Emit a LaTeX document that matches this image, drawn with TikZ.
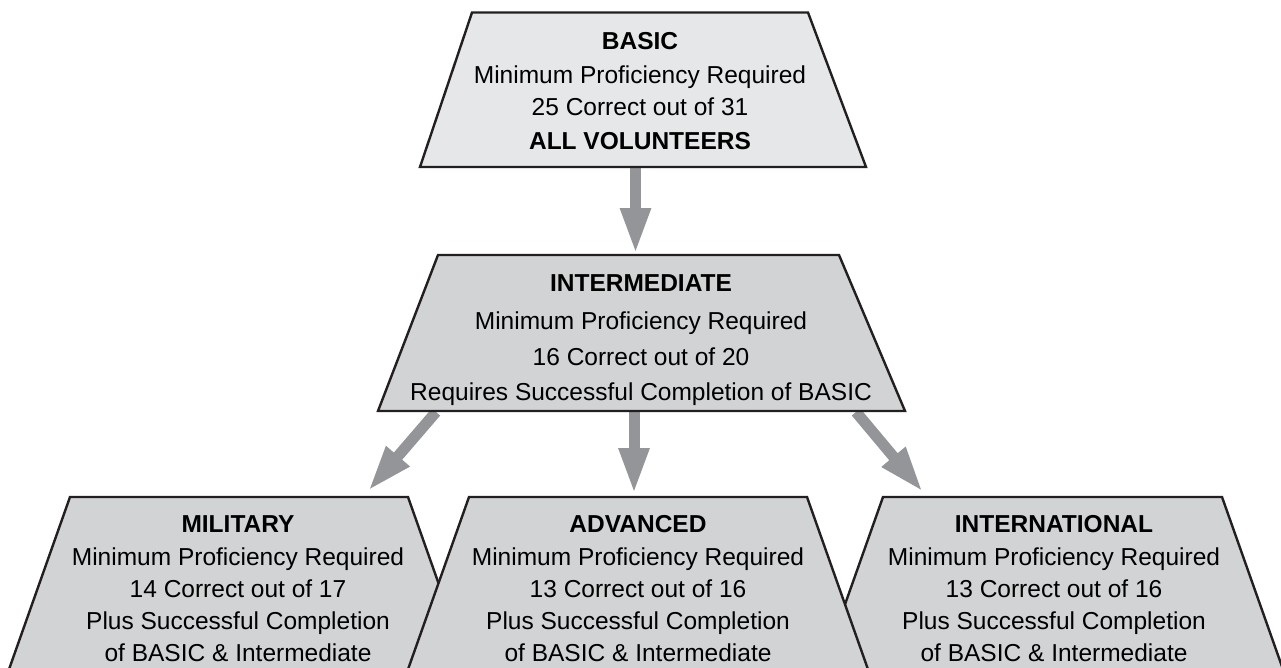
\documentclass[tikz,border=0pt]{standalone}
\usepackage{fontspec}
\setmainfont{Liberation Sans}
\usetikzlibrary{arrows.meta}
\definecolor{edge}{HTML}{231F20}
\definecolor{lightfill}{HTML}{E6E7E8}
\definecolor{midfill}{HTML}{D1D3D4}
\definecolor{arrowgray}{HTML}{939598}
\begin{document}
\begin{tikzpicture}[x=1pt,y=-1pt,
  box/.style={draw=edge, line width=2.4pt, line join=miter},
  txt/.style={inner sep=0pt, anchor=base, font=\fontsize{24.5}{29}\selectfont},
  ttl/.style={inner sep=0pt, anchor=base, font=\fontsize{24.5}{29}\selectfont\bfseries},
  flow/.style={draw=arrowgray, line width=11pt, -{Triangle[length=46pt,width=28pt]}}]
\useasboundingbox (0,0) rectangle (1281,667);
\clip (0,0) rectangle (1281,667);

% connector end points
\coordinate (basicOut) at (635.5,168);
\coordinate (interIn) at (635.5,254);
\coordinate (interOutL) at (436,412);
\coordinate (milIn) at (368,491);
\coordinate (interOutM) at (634,412);
\coordinate (advIn) at (634,494);
\coordinate (interOutR) at (856,412);
\coordinate (intlIn) at (923,492);

\draw[flow] (basicOut) -- (interIn);
\draw[flow] (interOutL) -- (milIn);
\draw[flow] (interOutM) -- (advIn);
\draw[flow] (interOutR) -- (intlIn);

% BASIC
\filldraw[box, fill=lightfill] (472,12.5) -- (808,12.5) -- (866,167) -- (420,167) -- cycle;
\node[ttl] (b1) at (640,49) {BASIC};
\node[txt] (b2) at (640,83) {Minimum Proficiency Required};
\node[txt] (b3) at (640,115) {25 Correct out of 31};
\node[ttl] (b4) at (640,149) {ALL VOLUNTEERS};

% INTERMEDIATE
\filldraw[box, fill=midfill] (438,255) -- (839,255) -- (905,411) -- (378,411) -- cycle;
\node[ttl] (i1) at (641,291) {INTERMEDIATE};
\node[txt] (i2) at (641,329) {Minimum Proficiency Required};
\node[txt] (i3) at (641,365) {16 Correct out of 20};
\node[txt] (i4) at (641,400) {Requires Successful Completion of BASIC};

% MILITARY
\filldraw[box, fill=midfill] (70,497) -- (408,497) -- (494,740) -- (-16,740) -- cycle;
\node[ttl] (m1) at (238,532) {MILITARY};
\node[txt] (m2) at (238,565) {Minimum Proficiency Required};
\node[txt] (m3) at (238,597) {14 Correct out of 17};
\node[txt] (m4) at (238,629) {Plus Successful Completion};
\node[txt] (m5) at (238,661) {of BASIC \& Intermediate};

% INTERNATIONAL
\filldraw[box, fill=midfill] (883,497) -- (1222,497) -- (1308,740) -- (797,740) -- cycle;
\node[ttl] (n1) at (1054,532) {INTERNATIONAL};
\node[txt] (n2) at (1054,565) {Minimum Proficiency Required};
\node[txt] (n3) at (1054,597) {13 Correct out of 16};
\node[txt] (n4) at (1054,629) {Plus Successful Completion};
\node[txt] (n5) at (1054,661) {of BASIC \& Intermediate};

% ADVANCED
\filldraw[box, fill=midfill] (469,497) -- (807,497) -- (893,740) -- (383,740) -- cycle;
\node[ttl] (d1) at (638,532) {ADVANCED};
\node[txt] (d2) at (638,565) {Minimum Proficiency Required};
\node[txt] (d3) at (638,597) {13 Correct out of 16};
\node[txt] (d4) at (638,629) {Plus Successful Completion};
\node[txt] (d5) at (638,661) {of BASIC \& Intermediate};
\end{tikzpicture}
\end{document}
